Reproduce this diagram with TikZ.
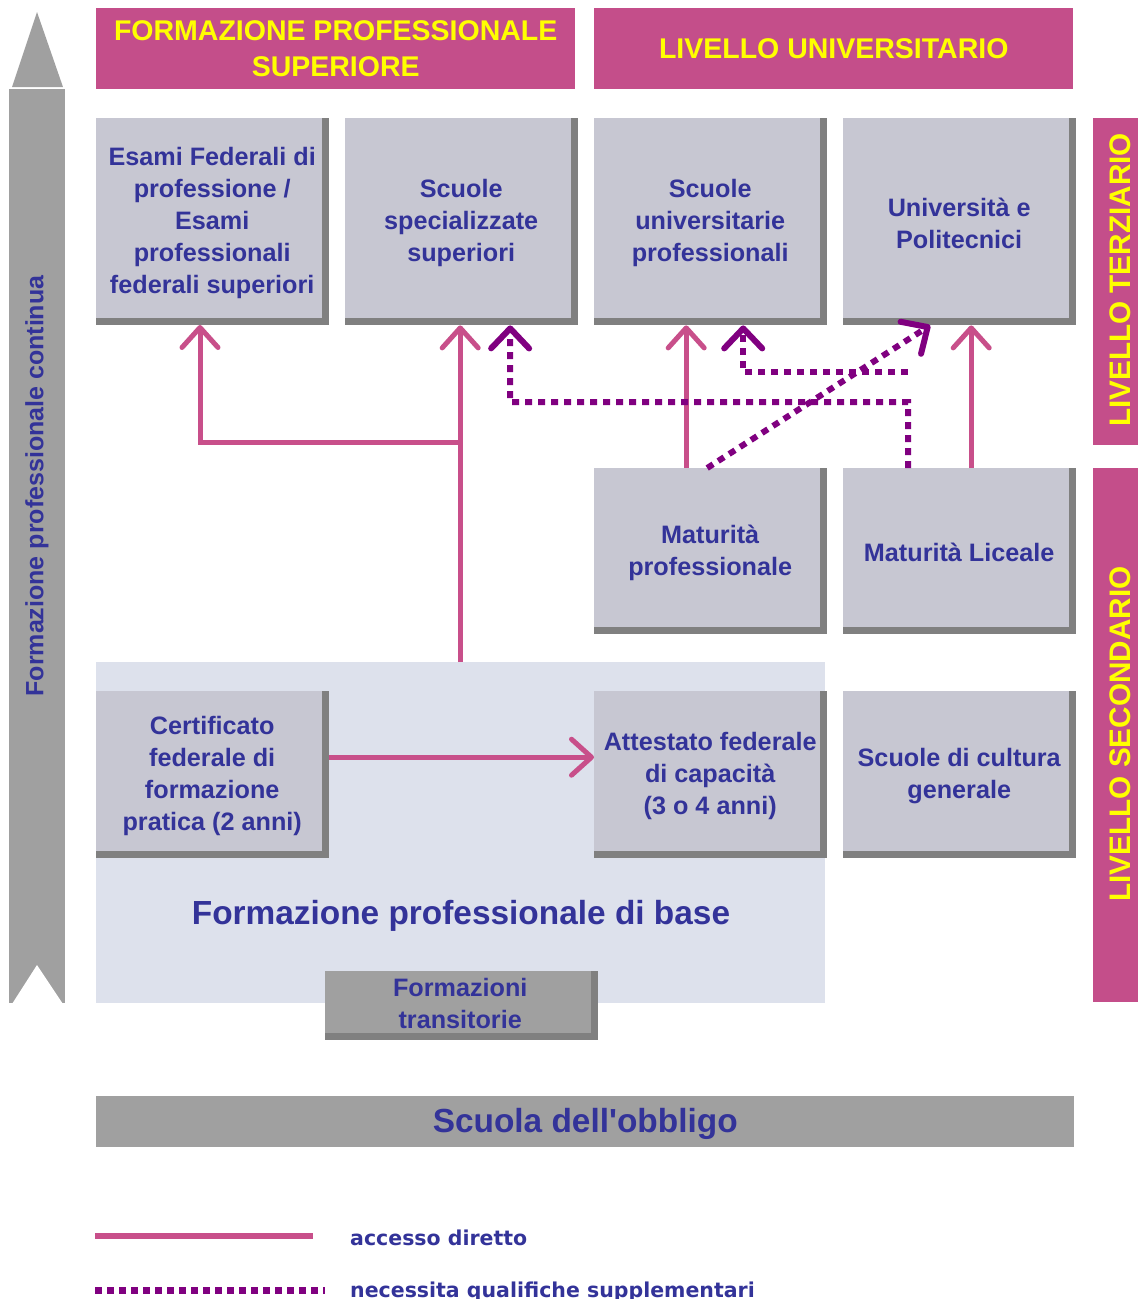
\documentclass[tikz,border=0pt]{standalone}
\usepackage{fontspec}
\setmainfont{Liberation Sans}
\newfontfamily\verd{DejaVu Sans}
\usetikzlibrary{arrows.meta}
\definecolor{hdr}{RGB}{196,78,138}
\definecolor{pinkc}{RGB}{200,79,138}
\definecolor{purp}{RGB}{128,0,128}
\definecolor{boxfill}{RGB}{199,199,210}
\definecolor{shgray}{RGB}{128,128,128}
\definecolor{lightbg}{RGB}{221,225,236}
\definecolor{graybar}{RGB}{160,160,160}
\definecolor{txt}{RGB}{51,51,153}
\definecolor{yel}{RGB}{255,255,0}
\newcommand{\mybox}[7]{%
  \fill[shgray] (#2,#3) rectangle ++(#4+7,#5+7);
  \node[fill=#7, inner sep=0pt, minimum width=#4pt, minimum height=#5pt, anchor=north west] (#1) at (#2,#3) {};
  \node[boxst] (#1t) at ([xshift=3pt,yshift=-5pt]#1.center) {#6};
}
\begin{document}
\begin{tikzpicture}[x=1pt,y=-1pt,
  boxst/.style={inner sep=0pt, align=center, text=txt, font=\fontsize{25.2}{32}\selectfont\bfseries},
  hdrst/.style={fill=hdr, inner sep=0pt, align=center, text=yel, font=\fontsize{28.5}{36}\selectfont\bfseries},
  vbar/.style={fill=hdr, inner sep=0pt},
  vtext/.style={rotate=90, inner sep=0pt, text=yel, font=\fontsize{29.7}{34}\selectfont\bfseries},
  pa/.style={draw=pinkc, line width=5pt, -{Straight Barb[length=20pt,width=36pt,round]}},
  pd/.style={draw=purp, line width=6pt, dash pattern=on 7pt off 6pt, -{Straight Barb[length=20pt,width=38pt,round]}},
  legt/.style={text=txt, inner sep=0pt, font=\verd\fontsize{20.5}{24}\selectfont\bfseries}
]
\useasboundingbox (0,0) rectangle (1138,1299);

% left vertical arrow
\fill[graybar] (9,89) rectangle (65,1003);
\fill[white] (12,1004) -- (37,965) -- (63,1004) -- cycle;
\fill[graybar] (12,87) -- (37,12) -- (63,87) -- cycle;
\node[rotate=90, text=txt, inner sep=0pt, font=\fontsize{25}{30}\selectfont\bfseries] (lt) at (37,486) {Formazione professionale continua};

% headers
\node[hdrst, minimum width=479pt, minimum height=81pt, anchor=north west] (h1) at (96,8) {FORMAZIONE PROFESSIONALE\\SUPERIORE};
\node[hdrst, minimum width=479pt, minimum height=81pt, anchor=north west] (h2) at (594,8) {LIVELLO UNIVERSITARIO};

% right bars
\node[vbar, minimum width=45pt, minimum height=327pt, anchor=north west] (vt) at (1093,118) {};
\node[vtext] (vtt) at (1120,280) {LIVELLO TERZIARIO};
\node[vbar, minimum width=45pt, minimum height=534pt, anchor=north west] (vs) at (1093,468) {};
\node[vtext] (vst) at (1120,734) {LIVELLO SECONDARIO};

% top row
\mybox{b1}{96}{118}{226}{200}{Esami Federali di\\professione /\\Esami\\professionali\\federali superiori}{boxfill}
\mybox{b2}{345}{118}{226}{200}{Scuole\\specializzate\\superiori}{boxfill}
\mybox{b3}{594}{118}{226}{200}{Scuole\\universitarie\\professionali}{boxfill}
\mybox{b4}{843}{118}{226}{200}{Università e\\Politecnici}{boxfill}

% maturità
\mybox{mp}{594}{468}{226}{159}{Maturità\\professionale}{boxfill}
\mybox{ml}{843}{468}{226}{159}{Maturità Liceale}{boxfill}

% formazione professionale di base
\node[fill=lightbg, inner sep=0pt, minimum width=729pt, minimum height=341pt, anchor=north west] (fpb) at (96,662) {};
\mybox{cf}{96}{691}{226}{160}{Certificato\\federale di\\formazione\\pratica (2 anni)}{boxfill}
\mybox{af}{594}{691}{226}{160}{Attestato federale\\di capacità\\(3 o 4 anni)}{boxfill}
\mybox{sc}{843}{691}{226}{160}{Scuole di cultura\\generale}{boxfill}
\node[text=txt, inner sep=0pt, font=\fontsize{33.4}{38}\selectfont\bfseries] (fpbt) at (461,916) {Formazione professionale di base};
\fill[shgray] (325,971) rectangle ++(273,69);
\node[fill=graybar, inner sep=0pt, minimum width=266pt, minimum height=62pt, anchor=north west] (ft) at (325,971) {};
\node[boxst] (ftt) at ([xshift=2pt,yshift=-1pt]ft.center) {Formazioni\\transitorie};

% scuola dell'obbligo
\node[fill=graybar, inner sep=0pt, minimum width=978pt, minimum height=51pt, anchor=north west] (so) at (96,1096) {};
\node[text=txt, inner sep=0pt, font=\fontsize{33.4}{38}\selectfont\bfseries] (sot) at ([yshift=-2pt]so.center) {Scuola dell\textquotesingle obbligo};

% pink arrows
\coordinate (j2) at ([xshift=2pt]fpb.north -| b2.south);
\coordinate (k2) at ([xshift=2pt]b2.south |- 0,442);
\coordinate (t1) at (200,325);
\draw[pa] (j2) -- ([xshift=2pt,yshift=-7pt]b2.south);
\draw[pa] (k2) -| (t1);
\draw[pa] ([xshift=-21pt]mp.north) -- ([xshift=-21pt,yshift=-7pt]b3.south);
\draw[pa] ([xshift=15pt]ml.north) -- ([xshift=15pt,yshift=-7pt]b4.south);
\draw[pa] ([xshift=7pt,yshift=14pt]cf.east) -- ([yshift=14pt]af.west);

% purple dotted arrows
\coordinate (p1) at (510,402);
\coordinate (p2) at (908,372);
\draw[pd] ([xshift=-48pt]ml.north) |- (p1) -- ([xshift=52pt,yshift=-7pt]b2.south);
\draw[pd] (p2) -| ([xshift=36pt,yshift=-7pt]b3.south);
\draw[pd] (mp.north) -- ([xshift=-26pt,yshift=-7pt]b4.south);

% legend
\coordinate (l1a) at (95,1236);
\coordinate (l1b) at (313,1236);
\coordinate (l2a) at (95,1290);
\coordinate (l2b) at (325,1290);
\draw[draw=pinkc, line width=6pt] (l1a) -- (l1b);
\draw[draw=purp, line width=7pt, dash pattern=on 7pt off 5pt] (l2a) -- (l2b);
\node[legt, anchor=base west] (lg1) at (350,1245) {accesso diretto};
\node[legt, anchor=base west] (lg2) at (350,1297) {necessita qualifiche supplementari};
\end{tikzpicture}
\end{document}
